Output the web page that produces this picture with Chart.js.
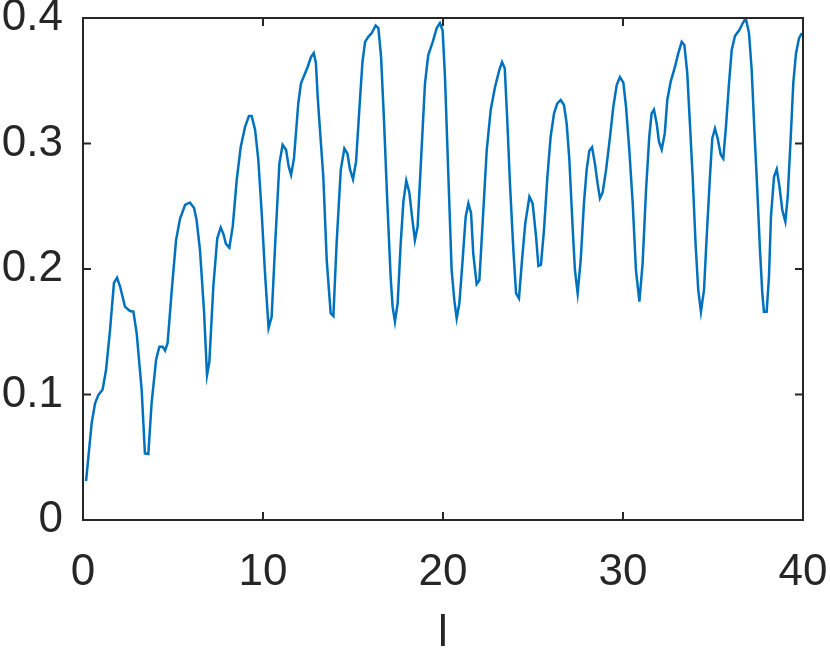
<!DOCTYPE html>
<html>
<head>
<meta charset="utf-8">
<script src="https://cdn.jsdelivr.net/npm/chart.js@4"></script>
<style>
  html, body { margin: 0; padding: 0; background: #fff; }
  #wrap { width: 830px; height: 654px; }
</style>
</head>
<body>
<div id="wrap"><canvas id="myChart" width="830" height="654"></canvas></div>
<script>
var lValues = [
  0.17, 0.48, 0.67, 0.85, 1.09, 1.28, 1.5, 1.72, 1.89, 2.06, 2.33, 2.61, 2.8, 2.98,
  3.26, 3.44, 3.63, 3.81, 4.06, 4.24, 4.43, 4.56, 4.7, 4.93, 5.17, 5.39, 5.67, 5.94,
  6.17, 6.31, 6.5, 6.72, 6.89, 7.02, 7.24, 7.46, 7.65, 7.8, 7.94, 8.13, 8.32, 8.54,
  8.76, 9.0, 9.22, 9.37, 9.56, 9.74, 9.93, 10.11, 10.31, 10.48, 10.67, 10.91, 11.09,
  11.28, 11.43, 11.56, 11.72, 11.96, 12.11, 12.3, 12.48, 12.67, 12.82, 12.94, 13.04,
  13.12, 13.35, 13.54, 13.76, 13.91, 14.09, 14.32, 14.52, 14.69, 14.83, 15.0, 15.17,
  15.35, 15.52, 15.67, 15.85, 16.04, 16.26, 16.41, 16.56, 16.72, 16.91, 17.09, 17.2,
  17.33, 17.48, 17.65, 17.8, 17.96, 18.13, 18.28, 18.44, 18.59, 18.78, 19.0, 19.18,
  19.43, 19.65, 19.83, 19.98, 20.11, 20.3, 20.48, 20.63, 20.76, 20.91, 21.09, 21.26,
  21.41, 21.56, 21.68, 21.87, 22.02, 22.2, 22.43, 22.65, 22.89, 23.13, 23.28, 23.43,
  23.57, 23.72, 23.91, 24.06, 24.22, 24.39, 24.57, 24.8, 24.98, 25.17, 25.3, 25.44,
  25.61, 25.8, 25.98, 26.17, 26.35, 26.54, 26.72, 26.87, 27.02, 27.2, 27.33, 27.48,
  27.65, 27.83, 27.98, 28.13, 28.28, 28.44, 28.59, 28.72, 28.87, 29.06, 29.28, 29.46,
  29.65, 29.83, 30.02, 30.17, 30.35, 30.54, 30.72, 30.91, 31.09, 31.28, 31.46, 31.59,
  31.72, 31.87, 32.0, 32.15, 32.32, 32.46, 32.65, 32.89, 33.07, 33.26, 33.41, 33.57,
  33.72, 33.87, 34.03, 34.18, 34.33, 34.5, 34.65, 34.83, 34.96, 35.11, 35.26, 35.43,
  35.57, 35.72, 35.89, 36.04, 36.22, 36.46, 36.65, 36.82, 37.0, 37.15, 37.29, 37.46,
  37.61, 37.74, 37.83, 37.98, 38.11, 38.22, 38.39, 38.54, 38.68, 38.85, 39.02, 39.15,
  39.32, 39.46, 39.61, 39.78, 39.94
];

var yValues = [
  0.031, 0.077, 0.093, 0.0996, 0.104, 0.1195, 0.151, 0.189, 0.193, 0.186, 0.17, 0.1665, 0.166, 0.149,
  0.1036, 0.053, 0.0526, 0.093, 0.1275, 0.138, 0.138, 0.135, 0.141, 0.183, 0.223, 0.24, 0.251, 0.253,
  0.2486, 0.239, 0.215, 0.167, 0.1155, 0.126, 0.186, 0.2245, 0.233, 0.228, 0.22, 0.217, 0.234, 0.271,
  0.297, 0.313, 0.322, 0.322, 0.311, 0.287, 0.244, 0.197, 0.153, 0.162, 0.218, 0.284, 0.299,
  0.295, 0.2815, 0.275, 0.288, 0.332, 0.348, 0.3546, 0.361, 0.369, 0.372, 0.364, 0.337,
  0.32, 0.2735, 0.207, 0.1647, 0.1625, 0.2205, 0.279, 0.296, 0.292, 0.2795, 0.2715, 0.2855,
  0.3267, 0.364, 0.381, 0.385, 0.388, 0.394, 0.392, 0.369, 0.319, 0.252, 0.194, 0.17,
  0.158, 0.1727, 0.2205, 0.2537, 0.2704, 0.261, 0.2417, 0.223, 0.2337, 0.287, 0.348, 0.3705,
  0.381, 0.392, 0.396, 0.39, 0.353, 0.2735, 0.199, 0.175, 0.1607, 0.1727, 0.207, 0.2417,
  0.2523, 0.2444, 0.2125, 0.188, 0.191, 0.2364, 0.2948, 0.3267, 0.345, 0.3586, 0.365, 0.36,
  0.3187, 0.268, 0.215, 0.1806, 0.1766, 0.207, 0.2364, 0.2576, 0.2523, 0.2258, 0.2024, 0.2032,
  0.231, 0.2735, 0.3054, 0.324, 0.332, 0.3347, 0.3307, 0.316, 0.287, 0.2337, 0.199, 0.1806,
  0.207, 0.2523, 0.279, 0.2943, 0.297, 0.284, 0.268, 0.2563, 0.261, 0.279, 0.3054, 0.329,
  0.3466, 0.353, 0.3485, 0.329, 0.2948, 0.2523, 0.199, 0.174, 0.2045, 0.263, 0.3054, 0.324,
  0.327, 0.316, 0.3015, 0.2953, 0.308, 0.3347, 0.3493, 0.3612, 0.3718, 0.381, 0.3785, 0.356,
  0.315, 0.2735, 0.2205, 0.1833, 0.166, 0.1833, 0.2258, 0.2735, 0.304, 0.312, 0.304, 0.291,
  0.288, 0.3134, 0.348, 0.3745, 0.3857, 0.3904, 0.3958, 0.3998, 0.388, 0.3586, 0.3134, 0.263,
  0.215, 0.1806, 0.166, 0.166, 0.194, 0.2417, 0.2735, 0.2795, 0.267, 0.247, 0.2377, 0.2576,
  0.3054, 0.348, 0.3718, 0.384, 0.388
];

var xTicks = [0, 10, 20, 30, 40];
var yTicks = [0, 0.1, 0.2, 0.3, 0.4];
var xLabel = "l";

var axisColor = "#262626";
var lineColor = "#0072BD";

// matlab style box with inward tick marks
var boxPlugin = {
  id: "box",
  afterDraw: function (chart) {
    var ctx = chart.ctx;
    var a = chart.chartArea;
    var xs = chart.scales.x;
    var ys = chart.scales.y;
    var len = 8;
    ctx.save();
    ctx.strokeStyle = axisColor;
    ctx.lineWidth = 2;
    ctx.beginPath();
    xTicks.forEach(function (v) {
      var px = xs.getPixelForValue(v);
      ctx.moveTo(px, a.bottom);
      ctx.lineTo(px, a.bottom - len);
      ctx.moveTo(px, a.top);
      ctx.lineTo(px, a.top + len);
    });
    yTicks.forEach(function (v) {
      var py = ys.getPixelForValue(v);
      ctx.moveTo(a.left, py);
      ctx.lineTo(a.left + len, py);
      ctx.moveTo(a.right, py);
      ctx.lineTo(a.right - len, py);
    });
    ctx.stroke();
    ctx.strokeRect(a.left, a.top, a.right - a.left, a.bottom - a.top);
    ctx.restore();
  },
};

var tickFont = { family: "'Liberation Sans', Arial, sans-serif", size: 44 };

new Chart(document.getElementById("myChart"), {
  type: "line",
  data: {
    datasets: [
      {
        data: lValues.map(function (l, i) {
          return { x: l, y: yValues[i] };
        }),
        borderColor: lineColor,
        borderWidth: 2.5,
        pointRadius: 0,
        tension: 0,
        fill: false,
      },
    ],
  },
  options: {
    responsive: false,
    animation: false,
    devicePixelRatio: 1,
    layout: { autoPadding: false, padding: { top: 18, right: 27, left: 0, bottom: 0 } },
    plugins: { legend: { display: false }, tooltip: { enabled: false } },
    scales: {
      x: {
        type: "linear",
        min: 0,
        max: 40,
        grid: { display: false, drawTicks: false },
        border: { display: false },
        afterFit: function (s) {
          s.height = 134;
          s.paddingLeft = 0;
          s.paddingRight = 0;
        },
        afterBuildTicks: function (s) {
          s.ticks = xTicks.map(function (v) { return { value: v }; });
        },
        ticks: { color: axisColor, font: tickFont, padding: 26, maxRotation: 0 },
        title: {
          display: true,
          text: xLabel,
          color: axisColor,
          font: { family: tickFont.family, size: 44, lineHeight: 0.9 },
          padding: { top: 0, bottom: 0 },
        },
      },
      y: {
        min: 0,
        max: 0.4,
        grid: { display: false, drawTicks: false },
        border: { display: false },
        afterFit: function (s) {
          s.width = 83;
          s.paddingTop = 0;
          s.paddingBottom = 0;
        },
        afterBuildTicks: function (s) {
          s.ticks = yTicks.map(function (v) { return { value: v }; });
        },
        ticks: {
          color: axisColor,
          font: tickFont,
          padding: 20,
          callback: function (v) { return v === 0 ? "0" : v.toFixed(1); },
        },
      },
    },
  },
  plugins: [boxPlugin],
});
</script>
</body>
</html>
